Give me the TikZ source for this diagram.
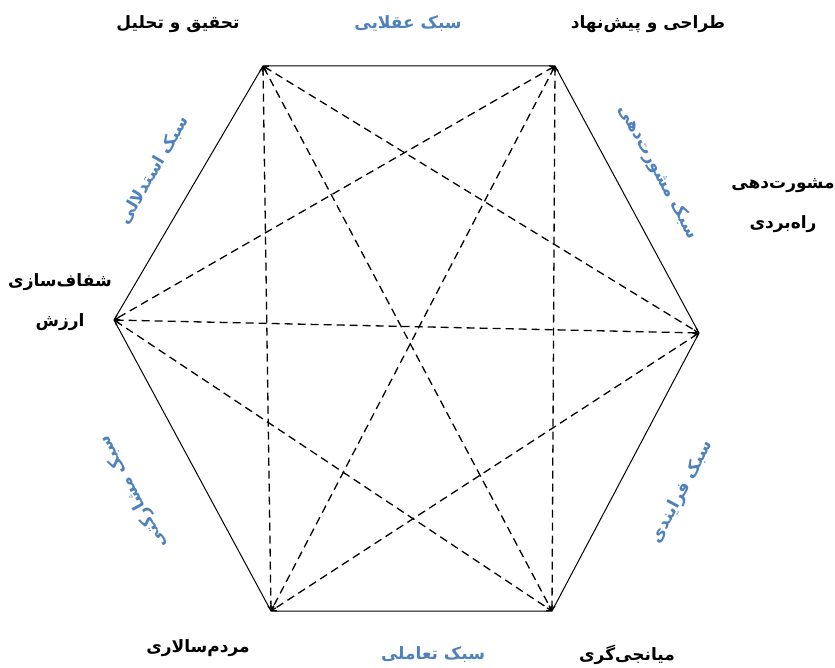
\documentclass[tikz,border=0pt]{standalone}
\usepackage{fontspec}
\newfontfamily\arabicfont[Script=Arabic]{DejaVu Sans}
\TeXXeTstate=1
\usetikzlibrary{arrows.meta}
\definecolor{styleblue}{RGB}{79,129,189}
\newcommand{\fa}[1]{\beginR #1\endR}

\begin{document}
\begin{tikzpicture}[
  x=1pt, y=-1pt,
  every node/.style={font=\arabicfont\bfseries\fontsize{17}{20}\selectfont, inner sep=1pt},
  role/.style={text=black, align=center},
  sty/.style={text=styleblue},
  rim/.style={line width=1pt},
  link/.style={dash pattern=on 8pt off 5pt, line width=1.3pt,
               {Straight Barb[length=4pt,width=6pt]}-{Straight Barb[length=4pt,width=6pt]}},
]
  \useasboundingbox (0,0) rectangle (835,668);

  % corners of the hexagon
  \coordinate (tl) at (263,66);
  \coordinate (tr) at (555,66);
  \coordinate (r)  at (699,333);
  \coordinate (br) at (552,611);
  \coordinate (bl) at (271,611);
  \coordinate (l)  at (114,320);

  \draw[rim] (tl) -- (tr) -- (r) -- (br) -- (bl) -- (l) -- cycle;

  % every pair of opposite corners
  \draw[link] (tl) -- (bl);
  \draw[link] (tl) -- (r);
  \draw[link] (tl) -- (br);
  \draw[link] (tr) -- (l);
  \draw[link] (tr) -- (bl);
  \draw[link] (tr) -- (br);
  \draw[link] (l) -- (r);
  \draw[link] (l) -- (br);
  \draw[link] (r) -- (bl);

  % roles at the corners
  \node[role] (research) at (178,24)  {\fa{تحقیق و تحلیل}};
  \node[role] (design)   at (648,24)  {\fa{طراحی و پیش‌نهاد}};
  \node[role] (advice)   at (783,206) {\fa{مشورت‌دهی}\\[20pt]\fa{راه‌بردی}};
  \node[role] (mediate)  at (627,655) {\fa{میانجی‌گری}};
  \node[role] (democ)    at (198,648) {\fa{مردم‌سالاری}};
  \node[role] (clarify)  at (60,302)  {\fa{شفاف‌سازی}\\[20pt]\fa{ارزش}};

  % styles along the sides
  \node[sty] (rational)  at (408,24)  {\fa{سبک عقلایی}};
  \node[sty, rotate=-61.5] (consult) at (658,172) {\fa{سبک مشورت‌دهی}};
  \node[sty, rotate=62]    (process) at (682,492) {\fa{سبک فرایندی}};
  \node[sty] (interact)  at (433,655) {\fa{سبک تعاملی}};
  \node[sty, rotate=118]   (partic)  at (133,492) {\fa{سبک مشارکتی}};
  \node[sty, rotate=59.7]  (reason)  at (154,170) {\fa{سبک استدلالی}};
\end{tikzpicture}
\end{document}
